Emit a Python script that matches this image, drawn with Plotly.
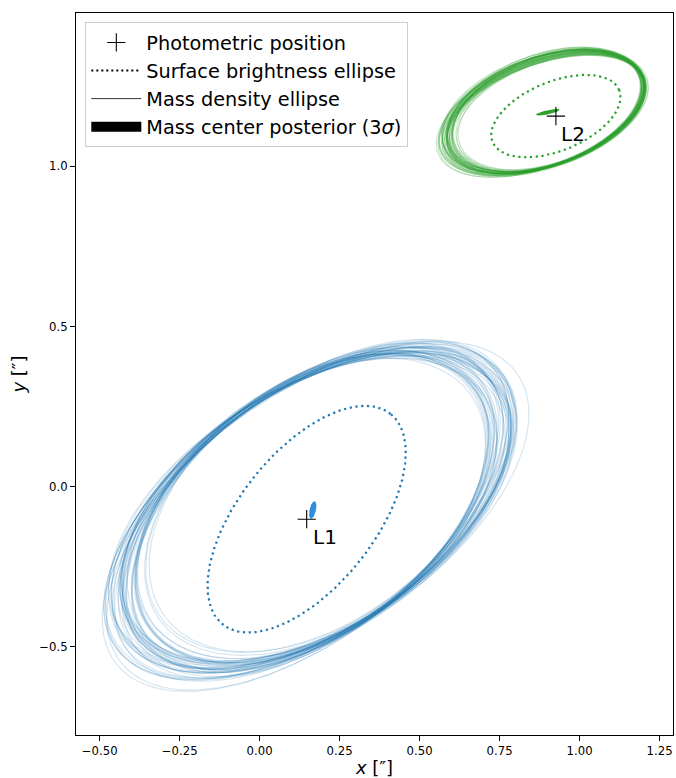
import numpy as np
import plotly.graph_objects as go

# ---------------- data ----------------
LENS_NAMES = ["L1", "L2"]
PHOT_X = [0.147, 0.926]
PHOT_Y = [-0.102, 1.157]

# Surface-brightness ellipses: centre, semi-axes, position angle (deg from +x)
SB_CX = [0.147, 0.926]
SB_CY = [-0.102, 1.157]
SB_A = [0.4205, 0.214]
SB_B = [0.211, 0.108]
SB_THETA = [51.4, 22.3]

# Mass-centre posterior (3 sigma) regions
MC_CX = [0.166, 0.901]
MC_CY = [-0.073, 1.169]
MC_A = [0.028, 0.038]
MC_B = [0.010, 0.0065]
MC_THETA = [77.0, 12.0]

# Mass-density ellipse posterior samples, lens L1
L1_A = [0.679, 0.650, 0.716, 0.626, 0.693, 0.742, 0.666, 0.607, 0.706, 0.729,
        0.640, 0.686, 0.660, 0.739, 0.617, 0.699, 0.673, 0.722, 0.646, 0.676,
        0.752, 0.633, 0.689, 0.709, 0.656, 0.597, 0.702, 0.683, 0.732, 0.643,
        0.696, 0.623, 0.712, 0.663, 0.686, 0.759, 0.636, 0.706, 0.669, 0.613,
        0.719, 0.653, 0.676, 0.726, 0.630, 0.693, 0.646, 0.683]
L1_B = [0.376, 0.380, 0.373, 0.379, 0.382, 0.375, 0.377, 0.371, 0.381, 0.376,
        0.384, 0.373, 0.379, 0.372, 0.378, 0.381, 0.374, 0.377, 0.370, 0.379,
        0.375, 0.383, 0.373, 0.378, 0.380, 0.375, 0.382, 0.371, 0.377, 0.381,
        0.374, 0.383, 0.377, 0.372, 0.379, 0.380, 0.376, 0.385, 0.373, 0.378,
        0.371, 0.379, 0.381, 0.375, 0.377, 0.373, 0.379, 0.382]
L1_THETA = [36.3, 32.9, 35.6, 36.9, 34.4, 38.1, 32.0, 35.8, 33.7, 37.3,
            35.2, 32.5, 38.6, 34.8, 36.5, 33.3, 39.0, 34.1, 36.0, 31.6,
            37.5, 35.4, 34.2, 38.2, 33.1, 36.7, 31.0, 36.2, 34.6, 37.7,
            33.5, 36.9, 32.3, 35.6, 38.8, 33.9, 36.3, 32.7, 37.1, 35.2,
            34.4, 37.9, 31.8, 35.8, 36.7, 35.0, 38.4, 33.3]
L1_CX = [0.172, 0.157, 0.179, 0.165, 0.175, 0.150, 0.168, 0.182, 0.160, 0.170,
         0.154, 0.176, 0.167, 0.162, 0.185, 0.158, 0.173, 0.152, 0.177, 0.169,
         0.147, 0.180, 0.164, 0.174, 0.156, 0.183, 0.161, 0.169, 0.153, 0.175,
         0.188, 0.159, 0.170, 0.151, 0.167, 0.177, 0.166, 0.157, 0.181, 0.160,
         0.173, 0.149, 0.176, 0.168, 0.164, 0.179, 0.158, 0.172]
L1_CY = [-0.068, -0.075, -0.068, -0.067, -0.067, -0.091, -0.069, -0.052, -0.079, -0.075,
         -0.075, -0.066, -0.069, -0.082, -0.051, -0.080, -0.067, -0.087, -0.060, -0.069,
         -0.094, -0.057, -0.075, -0.070, -0.077, -0.050, -0.078, -0.070, -0.087, -0.061,
         -0.059, -0.070, -0.073, -0.081, -0.072, -0.074, -0.067, -0.082, -0.061, -0.068,
         -0.072, -0.081, -0.065, -0.076, -0.068, -0.065, -0.074, -0.069]

# Mass-density ellipse posterior samples, lens L2
L2_A = [0.323, 0.316, 0.332, 0.310, 0.326, 0.338, 0.320, 0.305, 0.329, 0.335,
        0.313, 0.324, 0.318, 0.337, 0.308, 0.328, 0.321, 0.333, 0.315, 0.322,
        0.340, 0.312, 0.325, 0.330, 0.317, 0.303, 0.328, 0.324, 0.336, 0.314,
        0.327, 0.309, 0.331, 0.319, 0.324, 0.342, 0.312, 0.329, 0.320, 0.307,
        0.332, 0.316, 0.322, 0.334, 0.311, 0.326, 0.315, 0.324]
L2_B = [0.164, 0.170, 0.160, 0.168, 0.172, 0.163, 0.166, 0.158, 0.170, 0.165,
        0.174, 0.161, 0.168, 0.159, 0.167, 0.171, 0.162, 0.166, 0.157, 0.169,
        0.164, 0.173, 0.161, 0.167, 0.169, 0.163, 0.172, 0.158, 0.166, 0.170,
        0.162, 0.173, 0.165, 0.160, 0.168, 0.170, 0.164, 0.175, 0.161, 0.167,
        0.159, 0.169, 0.171, 0.163, 0.166, 0.160, 0.168, 0.172]
L2_THETA = [20.3, 18.7, 20.0, 20.6, 19.4, 21.2, 18.3, 20.1, 19.1, 20.8,
            19.8, 18.5, 21.4, 19.6, 20.4, 18.9, 21.6, 19.3, 20.2, 18.1,
            20.9, 19.9, 19.4, 21.2, 18.8, 20.5, 17.8, 20.3, 19.5, 21.0,
            19.0, 20.6, 18.5, 20.0, 21.5, 19.2, 20.3, 18.6, 20.7, 19.8,
            19.4, 21.1, 18.2, 20.1, 20.5, 19.7, 21.3, 18.9]
L2_CX = [0.895, 0.892, 0.893, 0.898, 0.895, 0.878, 0.895, 0.908, 0.886, 0.888,
         0.892, 0.896, 0.895, 0.883, 0.908, 0.886, 0.896, 0.881, 0.901, 0.894,
         0.875, 0.904, 0.890, 0.892, 0.890, 0.910, 0.887, 0.893, 0.880, 0.901,
         0.900, 0.896, 0.890, 0.888, 0.892, 0.888, 0.897, 0.885, 0.900, 0.898,
         0.890, 0.888, 0.897, 0.888, 0.897, 0.896, 0.893, 0.894]
L2_CY = [1.168, 1.174, 1.162, 1.175, 1.171, 1.161, 1.170, 1.171, 1.169, 1.164,
         1.177, 1.165, 1.172, 1.159, 1.175, 1.170, 1.167, 1.165, 1.166, 1.171,
         1.161, 1.177, 1.165, 1.167, 1.173, 1.175, 1.170, 1.164, 1.164, 1.175,
         1.165, 1.178, 1.165, 1.167, 1.169, 1.164, 1.172, 1.172, 1.167, 1.175,
         1.161, 1.173, 1.172, 1.163, 1.174, 1.164, 1.173, 1.172]

LABEL_X = [0.160, 0.937]
LABEL_Y = [-0.159, 1.101]

X_TICKS = [-0.50, -0.25, 0.00, 0.25, 0.50, 0.75, 1.00, 1.25]
Y_TICKS = [-0.5, 0.0, 0.5, 1.0]
X_RANGE = [-0.574, 1.292]
Y_RANGE = [-0.776, 1.479]

# ---------------- styling ----------------
COL = ["#1f77b4", "#2ca02c"]
MC_COL = ["#2b8ee0", "#2ca02c"]
SAMPLE_OPACITY = [0.19, 0.24]
FONT = "DejaVu Sans"


def ellipse(cx, cy, a, b, theta_deg, n=241):
    t = np.linspace(0.0, 2.0 * np.pi, n)
    th = np.radians(theta_deg)
    x = cx + a * np.cos(t) * np.cos(th) - b * np.sin(t) * np.sin(th)
    y = cy + a * np.cos(t) * np.sin(th) + b * np.sin(t) * np.cos(th)
    return x, y


fig = go.Figure()

samples = [
    (L1_CX, L1_CY, L1_A, L1_B, L1_THETA),
    (L2_CX, L2_CY, L2_A, L2_B, L2_THETA),
]
for k, (cxs, cys, As, Bs, Ts) in enumerate(samples):
    for cx, cy, a, b, t in zip(cxs, cys, As, Bs, Ts):
        x, y = ellipse(cx, cy, a, b, t)
        fig.add_trace(go.Scatter(x=x, y=y, mode="lines",
                                 line=dict(color=COL[k], width=1.1),
                                 opacity=SAMPLE_OPACITY[k], showlegend=False,
                                 hoverinfo="skip"))

for i in range(2):
    x, y = ellipse(SB_CX[i], SB_CY[i], SB_A[i], SB_B[i], SB_THETA[i])
    fig.add_trace(go.Scatter(x=x, y=y, mode="lines",
                             line=dict(color=COL[i], width=2.2, dash="2.2px,3.6px"),
                             showlegend=False, hoverinfo="skip"))

for i in range(2):
    x, y = ellipse(MC_CX[i], MC_CY[i], MC_A[i], MC_B[i], MC_THETA[i])
    fig.add_trace(go.Scatter(x=x, y=y, mode="lines", fill="toself",
                             fillcolor=MC_COL[i], line=dict(width=0, color=MC_COL[i]),
                             showlegend=False, hoverinfo="skip"))

fig.add_trace(go.Scatter(x=PHOT_X, y=PHOT_Y, mode="markers",
                         marker=dict(symbol="cross-thin", size=13,
                                     line=dict(color="black", width=1.1)),
                         showlegend=False, hoverinfo="skip"))

# legend proxies
fig.add_trace(go.Scatter(x=[None], y=[None], mode="markers", name="Photometric position",
                         legendgroup="g1",
                         marker=dict(symbol="cross-thin", size=13,
                                     line=dict(color="black", width=1.1))))
fig.add_trace(go.Scatter(x=[None], y=[None], mode="lines", name="Surface brightness ellipse",
                         legendgroup="g2",
                         line=dict(color="black", width=2, dash="2px,3px")))
fig.add_trace(go.Scatter(x=[None], y=[None], mode="lines", name="Mass density ellipse",
                         legendgroup="g3",
                         line=dict(color="black", width=0.8)))
fig.add_trace(go.Scatter(x=[None], y=[None], mode="lines",
                         name="Mass center posterior (3<i>σ</i>)",
                         legendgroup="g4",
                         line=dict(color="black", width=12)))

for i in range(2):
    fig.add_annotation(x=LABEL_X[i], y=LABEL_Y[i], text=LENS_NAMES[i],
                       showarrow=False, xanchor="left", yanchor="middle",
                       font=dict(size=20, color="black", family=FONT))

axis_common = dict(showline=True, mirror=True, linecolor="black", linewidth=1,
                   ticks="outside", ticklen=5, tickwidth=1, tickcolor="black",
                   showgrid=False, zeroline=False,
                   tickfont=dict(size=11.7, color="black", family=FONT))

fig.update_layout(
    width=676, height=778,
    margin=dict(l=76, r=3, t=13, b=43),
    paper_bgcolor="white", plot_bgcolor="white",
    font=dict(family=FONT, color="black"),
    xaxis=dict(range=X_RANGE, tickvals=X_TICKS, tickformat=".2f",
               title=dict(text="<i>x</i> [″]", font=dict(size=18), standoff=4),
               **axis_common),
    yaxis=dict(range=Y_RANGE, tickvals=Y_TICKS, tickformat=".1f",
               title=dict(text="<i>y</i> [″]", font=dict(size=18), standoff=8),
               **axis_common),
    legend=dict(x=0.0156, y=0.987, xanchor="left", yanchor="top",
                bgcolor="rgba(255,255,255,0.85)", bordercolor="#cccccc", borderwidth=1,
                font=dict(size=19.3, family=FONT, color="black"),
                tracegroupgap=0, itemwidth=50),
)

fig.write_html("out.html", config={"displayModeBar": False},
               post_script="document.body.style.margin='0';document.body.style.overflow='hidden';")
